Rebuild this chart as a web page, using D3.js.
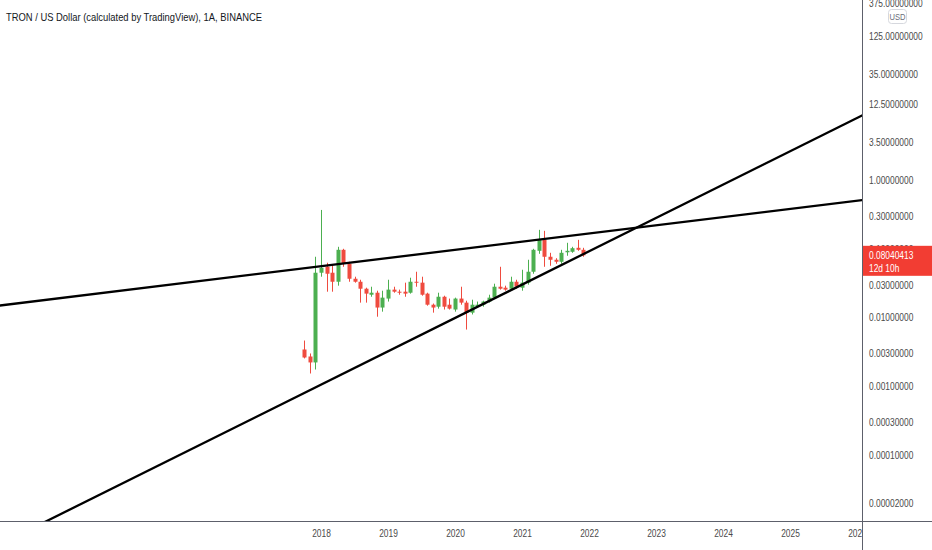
<!DOCTYPE html>
<html>
<head>
<meta charset="utf-8">
<script src="https://cdn.jsdelivr.net/npm/d3@7"></script>
<style>
  html, body { margin: 0; padding: 0; background: #fff; }
  svg { display: block; font-family: "Liberation Sans", Arial, sans-serif; }
</style>
</head>
<body>
<svg id="chart" width="932" height="550"></svg>
<script>
// monthly candles, TRX/USD
var months = ["2017-10","2017-11","2017-12",
  "2018-01","2018-02","2018-03","2018-04","2018-05","2018-06","2018-07","2018-08","2018-09","2018-10","2018-11","2018-12",
  "2019-01","2019-02","2019-03","2019-04","2019-05","2019-06","2019-07","2019-08","2019-09","2019-10","2019-11","2019-12",
  "2020-01","2020-02","2020-03","2020-04","2020-05","2020-06","2020-07","2020-08","2020-09","2020-10","2020-11","2020-12",
  "2021-01","2021-02","2021-03","2021-04","2021-05","2021-06","2021-07","2021-08","2021-09","2021-10","2021-11","2021-12"];
var open  = [0.00344,0.00272,0.00223,
  0.0449,0.0550,0.0449,0.0332,0.0967,0.0606,0.0367,0.0332,0.0263,0.0215,0.0230,0.0140,
  0.0189,0.0255,0.0238,0.0238,0.0230,0.0332,0.0322,0.0223,0.0154,0.0144,0.0201,0.0154,
  0.0131,0.0189,0.0165,0.0118,0.0144,0.0154,0.0171,0.0195,0.0281,0.0272,0.0263,0.0332,
  0.0272,0.0322,0.0464,0.0935,0.1350,0.0766,0.0693,0.0648,0.0890,0.0905,0.1034,0.0967];
var high  = [0.00464,0.00301,0.0766,
  0.367,0.0627,0.0586,0.1069,0.1000,0.0648,0.0393,0.0355,0.0272,0.0281,0.0246,0.0246,
  0.0355,0.0281,0.0255,0.0322,0.0380,0.0464,0.0393,0.0230,0.0160,0.0230,0.0208,0.0189,
  0.0195,0.0281,0.0176,0.0182,0.0171,0.0176,0.0215,0.0311,0.0548,0.0291,0.0393,0.0355,
  0.0496,0.0693,0.1000,0.1886,0.1824,0.0875,0.0730,0.0967,0.1222,0.1069,0.1350,0.1034];
var low   = [0.00255,0.00154,0.00176,
  0.0393,0.0238,0.0238,0.0291,0.0548,0.0332,0.0322,0.0165,0.0165,0.0201,0.0103,0.0122,
  0.0171,0.0230,0.0215,0.0201,0.0223,0.0281,0.0208,0.0149,0.0118,0.0135,0.0131,0.0131,
  0.0122,0.0154,0.0067,0.0111,0.0140,0.0144,0.0165,0.0189,0.0255,0.0246,0.0246,0.0263,
  0.0246,0.0301,0.0434,0.0846,0.0548,0.0567,0.0606,0.0606,0.0792,0.0875,0.0935,0.0766];
var close = [0.00263,0.00223,0.0449,
  0.0530,0.0434,0.0332,0.0967,0.0606,0.0367,0.0332,0.0263,0.0223,0.0230,0.0140,0.0195,
  0.0255,0.0238,0.0230,0.0223,0.0332,0.0322,0.0215,0.0154,0.0140,0.0201,0.0144,0.0135,
  0.0189,0.0165,0.0118,0.0154,0.0154,0.0171,0.0195,0.0281,0.0263,0.0255,0.0332,0.0281,
  0.0322,0.0464,0.0967,0.1350,0.0766,0.0693,0.0648,0.0875,0.0935,0.1020,0.0967,0.0804];

var yearTicks = [2018, 2019, 2020, 2021, 2022, 2023, 2024, 2025, 2026];
var priceTicks = [375, 125, 35, 12.5, 3.5, 1, 0.3, 0.1, 0.03, 0.01, 0.003, 0.001, 0.0003, 0.0001, 0.00002];
var lastPrice = 0.08040413;
var countdown = "12d 10h";
var title = "TRON / US Dollar (calculated by TradingView), 1A, BINANCE";

// two points per drawn trend line, extended across the pane
var resistance = [["2018-01", 0.0558], ["2021-04", 0.136]];
var support = [["2020-03", 0.0119], ["2021-12", 0.0838]];

var W = 932, H = 550
var PANE_W = 862, PANE_H = 521
var UP = '#4caf50', DOWN = '#ef4b3f'
var BODY_W = 4
var SQ = 0.8   // the screenshot's text is horizontally condensed
var FONT = '10.5px'

function monthIndex(s) {
  var p = s.split('-')
  return (+p[0] - 2018) * 12 + (+p[1] - 1)
}

// squeeze text horizontally while keeping its anchor x where it was
function narrow(sel) {
  sel.each(function () {
    var t = d3.select(this)
    var x0 = +t.attr('x') || 0
    t.attr('x', x0 / SQ).attr('transform', 'scale(' + SQ + ',1)')
  })
}

var x = d3.scaleLinear().domain([0, 84]).range([321, 790])
var y = d3.scaleLog().domain([1, 0.01]).range([180, 317.6])

var svg = d3.select('#chart')
var defs = svg.append('defs')

defs.append('clipPath').attr('id', 'pane')
  .append('rect').attr('x', 0).attr('y', 0).attr('width', PANE_W).attr('height', PANE_H)

var pane = svg.append('g').attr('clip-path', 'url(#pane)')

var candles = months.map(function (m, i) {
  return { m: monthIndex(m), o: open[i], h: high[i], l: low[i], c: close[i] }
})

// wicks
pane.append('g').selectAll('line')
  .data(candles)
  .join('line')
  .attr('x1', function (d) { return Math.round(x(d.m)) + 0.5 })
  .attr('x2', function (d) { return Math.round(x(d.m)) + 0.5 })
  .attr('y1', function (d) { return y(d.h) })
  .attr('y2', function (d) { return y(d.l) })
  .attr('stroke', function (d) { return d.c >= d.o ? UP : DOWN })
  .attr('stroke-width', 1)

// bodies
pane.append('g').selectAll('rect')
  .data(candles)
  .join('rect')
  .attr('x', function (d) { return Math.round(x(d.m)) + 0.5 - BODY_W / 2 })
  .attr('y', function (d) { return y(Math.max(d.o, d.c)) })
  .attr('width', BODY_W)
  .attr('height', function (d) { return Math.max(1, y(Math.min(d.o, d.c)) - y(Math.max(d.o, d.c))) })
  .attr('fill', function (d) { return d.c >= d.o ? UP : DOWN })

// trend lines
function extended(pts) {
  var x1 = x(monthIndex(pts[0][0])), y1 = y(pts[0][1])
  var x2 = x(monthIndex(pts[1][0])), y2 = y(pts[1][1])
  var k = (y2 - y1) / (x2 - x1)
  var xa = -20, xb = PANE_W + 20
  return [[xa, y1 + k * (xa - x1)], [xb, y1 + k * (xb - x1)]]
}
var line = d3.line()
pane.append('g').selectAll('path')
  .data([resistance, support])
  .join('path')
  .attr('d', function (d) { return line(extended(d)) })
  .attr('fill', 'none')
  .attr('stroke', '#000')
  .attr('stroke-width', 2.3)

// title
svg.append('text')
  .attr('x', 6).attr('y', 21)
  .attr('fill', '#131722')
  .style('font-size', '11px')
  .attr('textLength', 256)
  .attr('lengthAdjust', 'spacingAndGlyphs')
  .text(title)

// time axis (clip is in the axis group's own coordinates)
defs.append('clipPath').attr('id', 'timeclip')
  .append('rect').attr('x', 0).attr('y', 0).attr('width', PANE_W).attr('height', H - PANE_H)
var xAxis = svg.append('g')
  .attr('transform', 'translate(0,' + PANE_H + ')')
  .attr('clip-path', 'url(#timeclip)')
  .call(d3.axisBottom(x)
    .tickValues(yearTicks.map(function (yr) { return monthIndex(yr + '-01') }))
    .tickFormat(function (d) { return 2018 + d / 12 })
    .tickSize(0).tickPadding(9))
xAxis.select('.domain').remove()
xAxis.selectAll('text').attr('fill', '#4a4a4a').style('font-size', FONT)
  .style('font-family', '"Liberation Sans", Arial, sans-serif')
  .call(narrow)

// price axis
var yAxis = svg.append('g')
  .attr('transform', 'translate(' + PANE_W + ',0)')
  .call(d3.axisRight(y)
    .tickValues(priceTicks)
    .tickFormat(d3.format('.8f'))
    .tickSize(0).tickPadding(7))
yAxis.select('.domain').remove()
yAxis.selectAll('text').attr('fill', '#4a4a4a').style('font-size', FONT)
  .style('font-family', '"Liberation Sans", Arial, sans-serif')
  .call(narrow)

// axis borders
svg.append('line')
  .attr('x1', 0).attr('x2', W).attr('y1', PANE_H + 0.5).attr('y2', PANE_H + 0.5)
  .attr('stroke', '#5d606b').attr('stroke-width', 1)
svg.append('line')
  .attr('x1', PANE_W + 0.5).attr('x2', PANE_W + 0.5).attr('y1', 0).attr('y2', H)
  .attr('stroke', '#5d606b').attr('stroke-width', 1)

// last price label
var yp = y(lastPrice)
var tag = svg.append('g')
tag.append('rect')
  .attr('x', PANE_W + 1).attr('y', yp - 9.5)
  .attr('width', W - PANE_W - 1).attr('height', 30)
  .attr('fill', '#f23d33')
tag.append('text')
  .attr('x', PANE_W + 7).attr('y', yp).attr('dy', '0.35em')
  .attr('fill', '#fff').style('font-size', FONT)
  .text(lastPrice.toFixed(8))
  .call(narrow)
tag.append('text')
  .attr('x', PANE_W + 7).attr('y', yp + 13).attr('dy', '0.35em')
  .attr('fill', '#fff').style('font-size', FONT)
  .text(countdown)
  .call(narrow)

// currency badge
svg.append('rect')
  .attr('x', 888.5).attr('y', 9.5).attr('width', 18).attr('height', 14).attr('rx', 3)
  .attr('fill', '#fff').attr('stroke', '#d6d8de')
svg.append('text')
  .attr('x', 897.5).attr('y', 16.5).attr('dy', '0.35em')
  .attr('text-anchor', 'middle')
  .attr('fill', '#6a6d78').style('font-size', '9.5px')
  .text('USD')
  .call(narrow)
</script>
</body>
</html>
